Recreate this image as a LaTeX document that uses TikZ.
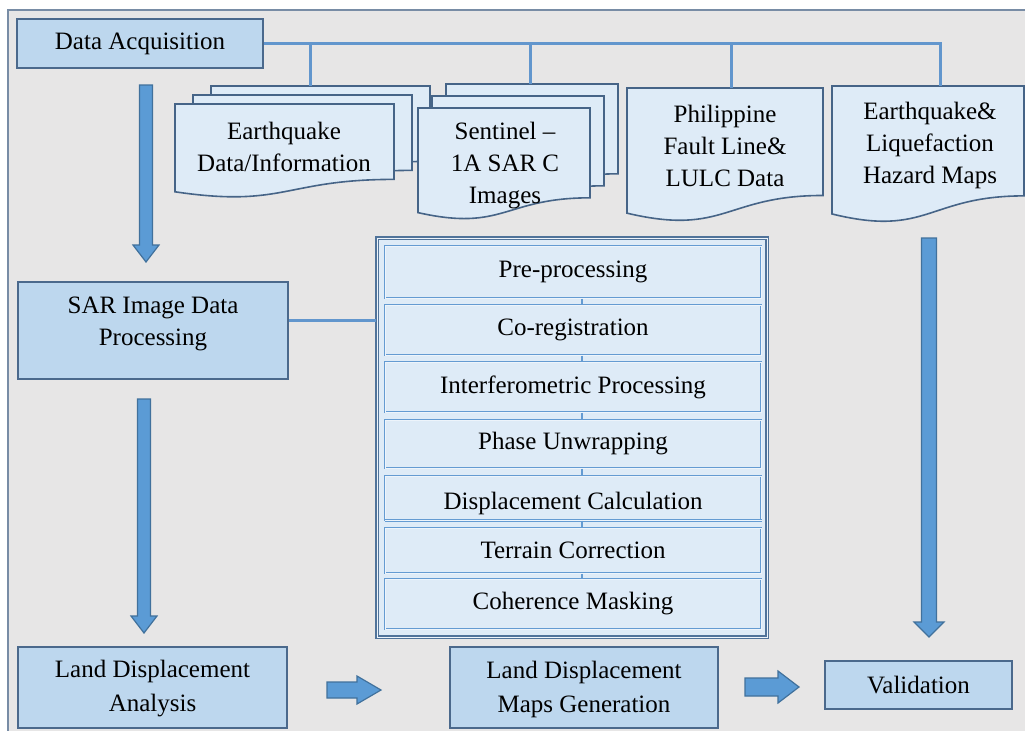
\documentclass[tikz,border=0pt]{standalone}
\usepackage{fontspec}
\setmainfont{LiberationSerif}[Extension=.ttf, UprightFont=*-Regular, BoldFont=*-Bold, ItalicFont=*-Italic, BoldItalicFont=*-BoldItalic, Ligatures=TeX]
\definecolor{bg}{RGB}{231,230,230}
\definecolor{framec}{RGB}{120,140,165}
\definecolor{boxfill}{RGB}{189,215,238}
\definecolor{boxline}{RGB}{75,105,140}
\definecolor{docfill}{RGB}{222,235,247}
\definecolor{docline}{RGB}{70,100,135}
\definecolor{connc}{RGB}{98,150,205}
\definecolor{arrfill}{RGB}{91,155,213}
\definecolor{arrline}{RGB}{65,113,156}
\definecolor{stepline}{RGB}{100,155,210}
\newcommand\dfont{\rmfamily\fontsize{25}{32}\selectfont}
\newcommand\docshape[4]{\draw[docst] (#1,#2) -- ({#1+#3},#2) -- ({#1+#3},{#2+0.802*#4}) .. controls ({#1+0.5*#3},{#2+0.802*#4}) and ({#1+0.5*#3},{#2+1.107*#4}) .. (#1,{#2+0.934*#4}) -- cycle;}
\newcommand\downarr[6]{\draw[arrst] ({#1-#5},#2) -- ({#1+#5},#2) -- ({#1+#5},#3) -- ({#1+#6},#3) -- (#1,#4) -- ({#1-#6},#3) -- ({#1-#5},#3) -- cycle;}
\newcommand\rightarr[6]{\draw[arrst] (#2,{#1-#5}) -- (#3,{#1-#5}) -- (#3,{#1-#6}) -- (#4,#1) -- (#3,{#1+#6}) -- (#3,{#1+#5}) -- (#2,{#1+#5}) -- cycle;}
\tikzset{
  box/.style={draw=boxline, line width=2pt, fill=boxfill, inner sep=0pt, align=center, font=\dfont},
  docst/.style={draw=docline, line width=1.6pt, fill=docfill},
  doctext/.style={inner sep=0pt, align=center, font=\dfont},
  conn/.style={draw=connc, line width=3pt},
  arrst/.style={draw=arrline, line width=1.2pt, fill=arrfill},
  stepbox/.style={draw=stepline, line width=1pt, double=white!45!docfill, double distance=0.9pt, fill=docfill, minimum width=376pt, inner sep=0pt, font=\dfont},
  contbox/.style={draw=boxline!80!stepline, line width=1.1pt, double=white!45!docfill, double distance=1pt, fill=docfill, minimum width=390pt, minimum height=399pt, inner sep=0pt},
  stepconn/.style={draw=stepline, line width=2pt}
}
\begin{document}
\begin{tikzpicture}[x=1pt,y=-1pt]
\useasboundingbox (0,0) rectangle (1025,731);
\fill[white] (0,0) rectangle (1025,731);
\fill[bg] (8,10) rectangle (1025,731);
\draw[framec, line width=1.5pt] (1025,10) -- (8,10) -- (8,731);

% top row of boxes
\node[box, minimum width=246pt, minimum height=49pt] (da) at (140,43.5) {Data Acquisition};

% document stacks
\docshape{211}{86}{219}{94}
\docshape{193}{95}{219}{94}
\docshape{175}{104}{219}{94}
\node[doctext] (eq) at (284,147) {Earthquake\\Data/Information};

\docshape{446}{84}{172}{112}
\docshape{432}{96}{172}{112}
\docshape{418}{108}{172}{112}
\node[doctext] (sen) at (505,166) {Sentinel --\\1A SAR C\\Images};

\docshape{627}{88}{196}{134}
\node[doctext] (phil) at (725,146) {Philippine\\Fault Line\&\\LULC Data};

\docshape{832}{86}{192}{137}
\node[doctext] (haz) at (930,145) {Earthquake\&\\Liquefaction\\Hazard Maps};

% branch connectors
\coordinate (eqtop) at (310,86);
\coordinate (sentop) at (530,84);
\coordinate (philtop) at (731,88);
\coordinate (haztop) at (940,86);
\draw[conn] (da.east) -| (haztop);
\draw[conn] (eqtop |- da.east) -- (eqtop);
\draw[conn] (sentop |- da.east) -- (sentop);
\draw[conn] (philtop |- da.east) -- (philtop);

% left column
\node[box, minimum width=270pt, minimum height=97pt] (sar) at (153,330.5) {};
\node[doctext] (sart) at (153,324) {SAR Image Data\\Processing};
\node[box, minimum width=269pt, minimum height=81pt] (lda) at (152.5,687.5) {};
\node[doctext, font=\rmfamily\fontsize{25}{34}\selectfont] (ldat) at (152.5,689) {Land Displacement\\Analysis};
\node[box, minimum width=268pt, minimum height=81pt] (ldm) at (584,687.5) {};
\node[doctext, font=\rmfamily\fontsize{25}{34}\selectfont] (ldmt) at (584,689) {Land Displacement\\Maps Generation};
\node[box, minimum width=187pt, minimum height=48pt] (val) at (918.5,685) {Validation};

% processing container
\node[contbox] (cont) at (572,437.5) {};
\node[stepbox, minimum height=52pt] (p1) at (573,272) {Pre-processing};
\node[stepbox, minimum height=50pt] (p2) at (573,330) {Co-registration};
\node[stepbox, minimum height=50pt] (p3) at (573,387) {Interferometric Processing};
\node[stepbox, minimum height=48pt] (p4) at (573,444) {Phase Unwrapping};
\node[stepbox, minimum height=44pt] (p5) at (573,498) {};
\node[doctext] (p5t) at (573,503) {Displacement Calculation};
\draw[draw=stepline, line width=1pt, double=white!45!docfill, double distance=0.9pt] (p5.south west) -- (p5.south east);
\node[stepbox, minimum height=45pt] (p6) at (573,550.5) {Terrain Correction};
\node[stepbox, minimum height=50pt] (p7) at (573,604) {Coherence Masking};
\foreach \a/\b in {p1/p2,p2/p3,p3/p4,p4/p5,p5/p6,p6/p7}
  \draw[stepconn] ([xshift=9pt]\a.south) -- ([xshift=9pt]\b.north);

\draw[conn] ([yshift=10.5pt]sar.east) -- ([yshift=10.5pt]sar.east -| cont.west);

% block arrows
\downarr{146}{85}{245}{262}{6.5}{13}
\downarr{144}{399}{616}{633}{6.5}{13}
\downarr{929}{238}{622}{637}{7.5}{15}
\rightarr{690}{327}{357}{381}{8}{14}
\rightarr{687}{745}{778}{799}{9}{16}
\end{tikzpicture}
\end{document}
